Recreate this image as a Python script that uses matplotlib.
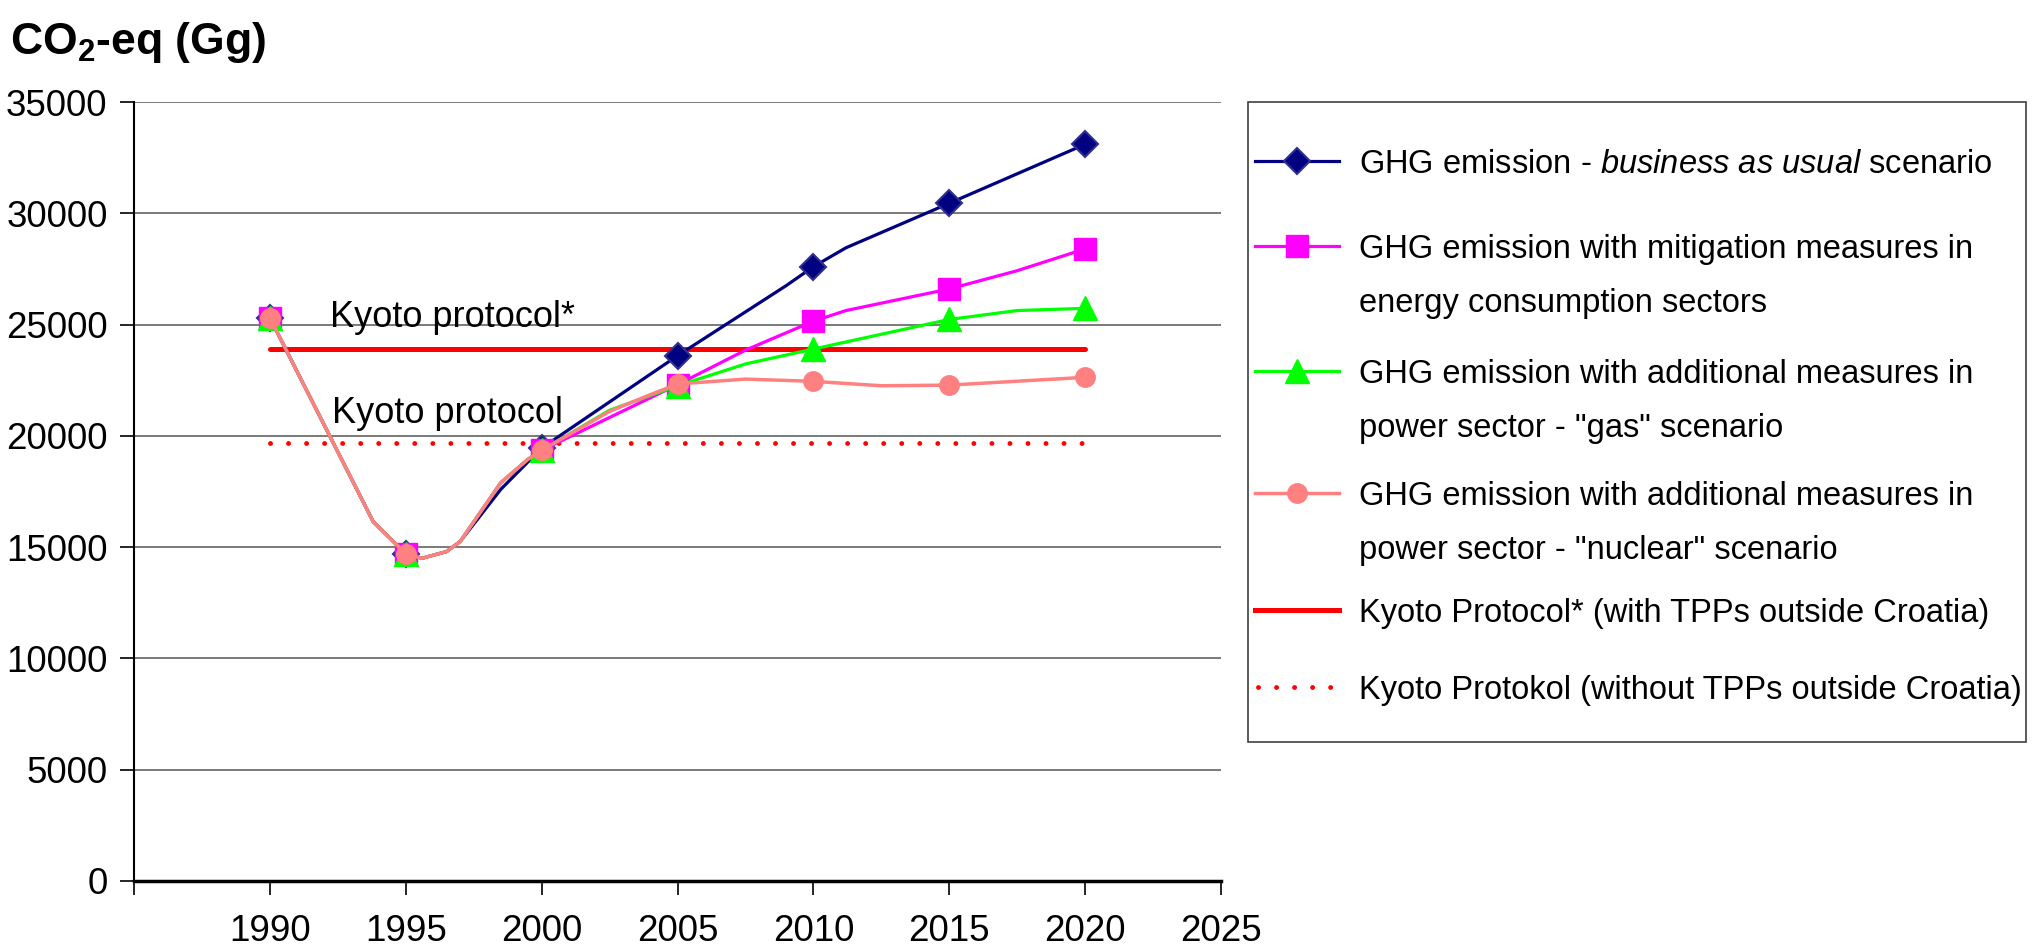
import matplotlib
matplotlib.use('Agg')
import matplotlib.pyplot as plt
from matplotlib.lines import Line2D
from matplotlib.patches import Rectangle

# GHG emissions, Gg CO2-eq
years_bau = [1990, 1993.8, 1995, 1995.6, 1996.5, 1997, 1998.5, 2000, 2005, 2009, 2010, 2011.2, 2015, 2020]
bau = [25300, 16150, 14700, 14500, 14800, 15250, 17600, 19450, 23600, 26750, 27600, 28450, 30450, 33100]

years_mit = [1990, 1993.8, 1995, 1995.6, 1996.5, 1997, 1998.5, 1999.5, 2000, 2005, 2007.5, 2010, 2011.2, 2015, 2017.5, 2020]
mit = [25300, 16150, 14700, 14500, 14800, 15250, 17900, 18950, 19350, 22300, 23850, 25150, 25630, 26600, 27420, 28400]

years_gas = [1990, 1993.8, 1995, 1995.6, 1996.5, 1997, 1998.5, 1999.5, 2000, 2002.5, 2005, 2007.5, 2010, 2015, 2017.5, 2020]
gas = [25300, 16150, 14700, 14500, 14800, 15250, 17900, 18950, 19350, 21150, 22250, 23230, 23900, 25230, 25630, 25730]

years_nuc = [1990, 1993.8, 1995, 1995.6, 1996.5, 1997, 1998.5, 1999.5, 2000, 2002.5, 2004, 2005, 2007.5, 2010, 2012.5, 2015, 2020]
nuc = [25300, 16150, 14700, 14500, 14800, 15250, 17900, 18950, 19350, 21100, 21850, 22330, 22550, 22450, 22250, 22280, 22630]

kyoto_years = [1990, 2020]
kyoto_star = [23900, 23900]   # with TPPs outside Croatia
kyoto = [19700, 19700]        # without TPPs outside Croatia

xticks = [1985, 1990, 1995, 2000, 2005, 2010, 2015, 2020, 2025]
xlabels = ['', '1990', '1995', '2000', '2005', '2010', '2015', '2020', '2025']
yticks = [0, 5000, 10000, 15000, 20000, 25000, 30000, 35000]

labels = [
    [r'GHG emission - $\mathit{business\ as\ usual}$ scenario'],
    ['GHG emission with mitigation measures in', 'energy consumption sectors'],
    ['GHG emission with additional measures in', 'power sector - "gas" scenario'],
    ['GHG emission with additional measures in', 'power sector - "nuclear" scenario'],
    ['Kyoto Protocol* (with TPPs outside Croatia)'],
    ['Kyoto Protokol (without TPPs outside Croatia)'],
]

FONT = 'Liberation Sans'
plt.rcParams['font.family'] = [FONT, 'DejaVu Sans']
plt.rcParams['mathtext.fontset'] = 'custom'
plt.rcParams['mathtext.rm'] = FONT
plt.rcParams['mathtext.it'] = FONT + ':italic'
plt.rcParams['mathtext.bf'] = FONT + ':bold'

W, H = 2034, 948


def fx(px):
    return px / W


def fy(py):
    return 1 - py / H


fig = plt.figure(figsize=(W / 100, H / 100), dpi=100)
ax = fig.add_axes([fx(134), fy(881), fx(1221) - fx(134), fy(102) - fy(881)])

NAVY, MAG, GREEN, SALMON, RED = '#000080', '#FF00FF', '#00FF00', '#FF8080', '#FF0000'
DOTS = (0, (0.01, 3.7))

ax.plot(kyoto_years, kyoto_star, color=RED, lw=3.6, solid_capstyle='round', zorder=2)
ax.plot(kyoto_years, kyoto, color=RED, lw=3.5, ls=DOTS, dash_capstyle='round', zorder=2)

st_bau = dict(color=NAVY, lw=2.3, marker='D', ms=13, mfc=NAVY, mec='#303090', mew=1.5)
st_mit = dict(color=MAG, lw=2.3, marker='s', ms=16, mfc=MAG, mec=MAG)
st_gas = dict(color=GREEN, lw=2.3, marker='^', ms=17, mfc=GREEN, mec=GREEN)
st_nuc = dict(color=SALMON, lw=2.5, marker='o', ms=14, mfc=SALMON, mec=SALMON)


def every5(yrs):
    return [i for i, y in enumerate(yrs) if y % 5 == 0]


ax.plot(years_bau, bau, markevery=every5(years_bau), zorder=3, **st_bau)
ax.plot(years_mit, mit, markevery=every5(years_mit), zorder=4, **st_mit)
ax.plot(years_gas, gas, markevery=every5(years_gas), zorder=5, **st_gas)
ax.plot(years_nuc, nuc, markevery=every5(years_nuc), zorder=6, **st_nuc)

ax.set_xlim(1985, 2025)
ax.set_ylim(0, 35000)
ax.set_xticks(xticks)
ax.set_xticklabels(xlabels)
ax.set_yticks(yticks)
ax.set_yticklabels([str(v) for v in yticks])
ax.tick_params(axis='x', direction='out', length=10, width=1.2, pad=14, labelsize=26.5)
ax.tick_params(axis='y', direction='out', length=10, width=1.2, pad=9, labelsize=26.5)
ax.grid(axis='y', color='#707070', lw=1.3)
ax.set_axisbelow(True)
for s in ['top', 'right']:
    ax.spines[s].set_visible(False)
ax.spines['left'].set_linewidth(1.5)
ax.spines['bottom'].set_linewidth(2.5)

ax.text(1992.2, 24900, 'Kyoto protocol*', fontsize=26, va='baseline', zorder=7)
ax.text(1992.3, 20600, 'Kyoto protocol', fontsize=26, va='baseline', zorder=7)

fig.text(fx(10), fy(54), r'$\mathbf{CO_2}$-eq (Gg)', fontsize=32, fontweight='bold', va='baseline')

# legend drawn by hand to follow the original layout
fig.add_artist(Rectangle((fx(1248), fy(742)), fx(2026) - fx(1248), fy(102) - fy(742),
                         transform=fig.transFigure, fill=False, ec='#404040', lw=1.2))
handle_y = [161, 246, 371, 493, 610, 687]
styles = [st_bau, st_mit, st_gas, st_nuc,
          dict(color=RED, lw=3.6),
          dict(color=RED, lw=3.5, ls=DOTS, dash_capstyle='round')]
for hy, st, lab in zip(handle_y, styles, labels):
    x0, x1 = (1258, 1336) if st.get('ls') else (1255, 1339)
    fig.add_artist(Line2D([fx(x0), fx((x0 + x1) / 2), fx(x1)], [fy(hy)] * 3,
                          transform=fig.transFigure, markevery=[1], **st))
    for k, line in enumerate(lab):
        fig.text(fx(1359), fy(hy + 12 + 54 * k), line, fontsize=23.5, va='baseline')

fig.savefig('out.png', dpi=100)
